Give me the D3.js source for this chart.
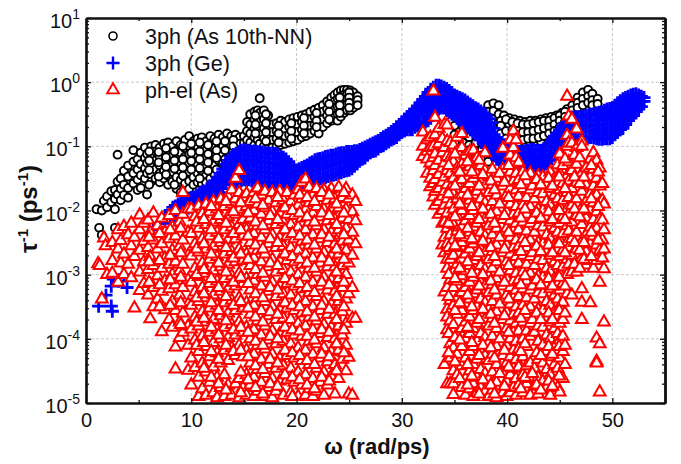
<!DOCTYPE html>
<html>
<head>
<meta charset="utf-8">
<script src="https://cdn.jsdelivr.net/npm/d3@7"></script>
<style>
  body { margin: 0; background: #fff; }
  text { font-family: "Liberation Sans", Arial, sans-serif; fill: #111; }
</style>
</head>
<body>
<div id="chart"></div>
<script>
// every row below is one column of points: [omega, log10(tau^-1), log10(tau^-1), ...]
const xTicks = [0, 10, 20, 30, 40, 50];
const yTickExp = [1, 0, -1, -2, -3, -4, -5];
const legendNames = ['3ph (As 10th-NN)', '3ph (Ge)', 'ph-el (As)'];

const black3ph = [
  [1.0,-1.98],[1.25,-2.27],[1.5,-2.0,-2.38],[1.7,-1.85],[2.0,-1.78,-1.95],[2.4,-1.7,-1.87],[2.75,-1.68,-1.82,-1.98,-2.27],
  [3.0,-1.13,-1.55,-1.75],[3.3,-1.5,-1.66,-1.84],[3.6,-1.38,-1.6,-1.76],[4.0,-1.3,-1.47,-1.65,-1.8],[4.5,-1.06,-1.24,-1.42,-1.58],
  [4.9,-1.2,-1.36,-1.52,-1.68],[5.2,-1.1,-1.28,-1.45,-1.65],[5.6,-1.02,-1.18,-1.34,-1.5],[5.8,-1.12,-1.26,-1.42,-1.75],
  [6.2,-1.0,-1.15,-1.3,-1.44,-1.55],[6.6,-.98,-1.08,-1.22,-1.36,-1.5],[7.0,-1.02,-1.16,-1.3,-1.42,-1.56],[7.4,-.96,-1.1,-1.24,-1.38,-1.5],
  [7.8,-.94,-1.06,-1.18,-1.32,-1.46,-1.6],[8.2,-1.0,-1.14,-1.28,-1.4,-1.55],[8.6,-.92,-1.06,-1.2,-1.34,-1.48,-1.66],[9.0,-.98,-1.1,-1.25,-1.38,-1.52,-1.72],
  [9.4,-.9,-1.03,-1.16,-1.3,-1.44,-1.58],[9.8,-.84,-1.0,-1.12,-1.26,-1.4,-1.54,-1.66],[10.2,-.92,-1.06,-1.2,-1.34,-1.48,-1.6],[10.6,-.88,-1.0,-1.14,-1.28,-1.42,-1.56],
  [11,-.86,-.98,-1.1,-1.24,-1.38,-1.5,-1.58],[11.4,-.92,-1.06,-1.18,-1.32,-1.46,-1.56],[11.8,-.84,-.97,-1.12,-1.26,-1.4,-1.5],[12.2,-.88,-1.02,-1.15,-1.3,-1.44],
  [12.6,-.82,-.95,-1.08,-1.22,-1.36],[13,-.86,-1.0,-1.12,-1.26,-1.38],[13.4,-.8,-.94,-1.06,-1.2],[13.8,-.84,-.98,-1.1],[14.2,-.82,-.93,-1.02],
  [14.6,-.86,-.96],[15,-.84,-.95],[15.3,-.62,-.76,-.9],[15.6,-.5,-.66,-.8,-.94],[16,-.46,-.58,-.72,-.86,-.98],[16.3,-.44,-.56,-.74,-.9],
  [16.5,-.25,-.48,-.62,-.8,-.96],[16.9,-.44,-.58,-.72,-.88,-1.0],[17.3,-.52,-.68,-.84,-.98],[17.7,-.66,-.78,-.9,-1.02],[18.1,-.64,-.76,-.88,-1.0],
  [18.5,-.6,-.72,-.86,-.98],[18.9,-.62,-.74,-.84,-.96],[19.3,-.58,-.7,-.82,-.94],[19.7,-.56,-.68,-.8,-.92],[20.1,-.54,-.66,-.78,-.9],
  [20.5,-.52,-.62,-.74,-.86],[20.9,-.5,-.6,-.72,-.84],[21.3,-.46,-.58,-.68,-.8],[21.7,-.43,-.54,-.66,-.76],[22.1,-.4,-.5,-.62,-.72,-.8],
  [22.5,-.36,-.46,-.58,-.7],[22.9,-.3,-.42,-.52,-.64],[23.3,-.24,-.36,-.48,-.6],[23.6,-.2,-.3,-.42,-.54],[23.9,-.16,-.26,-.38,-.5,-.6],
  [24.2,-.13,-.22,-.32,-.42,-.54],[24.5,-.12,-.2,-.28,-.38,-.48],[24.8,-.12,-.18,-.26,-.34,-.44],[25.1,-.13,-.2,-.28,-.36,-.44],[25.4,-.16,-.24,-.32,-.4],[25.8,-.22,-.28,-.36],
  [6.0,-1.08,-1.22,-1.37,-1.6],[6.9,-1.09,-1.25,-1.47],[7.6,-1.03,-1.17,-1.32,-1.44],[8.4,-1.08,-1.22,-1.35,-1.6],[9.2,-1.0,-1.2,-1.33,-1.46],[10,-.96,-1.1,-1.23,-1.36],
  [10.8,-.94,-1.08,-1.2,-1.34,-1.5],[11.6,-.98,-1.12,-1.25,-1.38],[12.4,-.92,-1.06,-1.18,-1.36],[13.2,-.92,-1.06,-1.2,-1.32],[14,-.9,-1.0,-1.14],
  [16.1,-.52,-.66,-.8],[17.1,-.5,-.64,-.78,-.92],[18.3,-.68,-.8,-.94],[19.5,-.64,-.76,-.88],[20.7,-.56,-.68,-.8],[21.9,-.48,-.6,-.7],[23.1,-.34,-.46,-.58],[24.1,-.24,-.36,-.48],[25,-.16,-.24,-.32,-.4],
  [35.0,-.68,-.82],[35.8,-.7,-.84,-.94],[36.4,-.86,-.98,-1.06],[37.0,-.95,-1.08,-1.14],[37.6,-1.05,-1.14,-1.2],[38.2,-.36,-.46,-.58,-1.15,-1.24],
  [38.7,-.33,-.45,-.58,-.7,-.82],[39.2,-.36,-.5,-.62,-.74,-.86],[39.7,-.52,-.62,-.72,-.84,-.96],[40.2,-.56,-.66,-.78,-.9,-1.02],
  [40.7,-.58,-.7,-.8,-.92,-1.02],[41.2,-.6,-.7,-.82,-.94,-1.04],[41.7,-.62,-.72,-.84,-.94],[42.2,-.6,-.72,-.82,-.94],[42.7,-.6,-.7,-.8,-.92],
  [43.2,-.58,-.68,-.8,-.92],[43.7,-.56,-.66,-.78],[44.2,-.54,-.66,-.76],[44.7,-.52,-.62,-.72],[45.2,-.48,-.56,-.66],[45.7,-.42,-.5,-.6],
  [46.2,-.36,-.44,-.52],[46.7,-.24,-.32,-.4],[47.2,-.16,-.26,-.36],[47.7,-.12,-.22,-.32],[48.1,-.18,-.28,-.36],[48.6,-.26,-.34],
  [39.4,-.6,-.68,-.8],[39.9,-.58,-.76,-.88],[40.5,-.62,-.74,-.86,-.96],[41,-.64,-.76,-.88,-.98],[41.5,-.66,-.78,-.9],[42,-.66,-.78,-.88],[42.5,-.64,-.76,-.88],[43,-.62,-.74,-.86],[43.5,-.6,-.72,-.84],[44,-.6,-.7,-.8],[44.5,-.56,-.66,-.76],[45,-.52,-.6,-.7],[45.5,-.46,-.54,-.62]
];

const blueGe = [
  [1.2,-3.49],[1.9,-3.32],[2.4,-3.18,-3.49],[2.5,-3.57],[2.6,-3.07],[3.1,-3.1],[3.6,-3.0],[3.9,-3.2],[6.4,-2.3],[7,-2.2],[7.5,-2.1,-2.2],
  [8,-2.0,-2.12],[8.25,-1.95,-2.1],[8.5,-1.93,-2.08],[8.75,-1.9,-2.05],[9,-1.88,-2.03],[9.25,-1.86,-2.0],[9.5,-1.84,-1.98],[9.75,-1.82,-1.96],
  [10,-1.8,-1.94],[10.25,-1.79,-1.93],[10.5,-1.76,-1.9],[10.75,-1.74,-1.88],[11,-1.71,-1.85],[11.25,-1.7,-1.84],[11.5,-1.66,-1.8],[11.75,-1.62,-1.76],
  [12,-1.58,-1.72,-1.85],[12.25,-1.54,-1.68,-1.82],[12.5,-1.48,-1.62,-1.78],[12.75,-1.42,-1.56,-1.72],[13,-1.35,-1.5,-1.66],[13.25,-1.28,-1.43,-1.58],[13.5,-1.22,-1.37,-1.52],[13.75,-1.17,-1.32,-1.48],
  [14,-1.13,-1.28,-1.44,-1.6],[14.25,-1.11,-1.26,-1.42,-1.58],[14.5,-1.08,-1.23,-1.39,-1.55],[14.75,-1.06,-1.22,-1.38,-1.54],[15,-1.05,-1.2,-1.36,-1.52],[15.25,-1.07,-1.22,-1.37,-1.53],[15.5,-1.06,-1.21,-1.37,-1.52],[15.75,-1.08,-1.23,-1.38,-1.54],
  [16,-1.07,-1.22,-1.37,-1.52],[16.25,-1.08,-1.23,-1.39,-1.54],[16.5,-1.09,-1.24,-1.39,-1.55],[16.75,-1.09,-1.25,-1.4,-1.55],[17,-1.1,-1.25,-1.4,-1.55],[17.25,-1.1,-1.25,-1.41,-1.56],[17.5,-1.11,-1.26,-1.41,-1.56],[17.75,-1.11,-1.26,-1.42,-1.57],
  [18,-1.11,-1.27,-1.42,-1.58],[18.25,-1.13,-1.28,-1.43,-1.58],[18.5,-1.16,-1.3,-1.44,-1.58],[18.75,-1.17,-1.31,-1.45,-1.59],[19,-1.2,-1.33,-1.46,-1.6],[19.25,-1.24,-1.37,-1.5,-1.62],[19.5,-1.3,-1.42,-1.54,-1.64],[19.75,-1.36,-1.47,-1.58],
  [20,-1.37,-1.5,-1.6],[20.25,-1.35,-1.47,-1.6],[20.5,-1.33,-1.46,-1.59],[20.75,-1.31,-1.44,-1.58],[21,-1.29,-1.42,-1.56],[21.25,-1.26,-1.4,-1.55],[21.5,-1.24,-1.38,-1.55],[21.75,-1.21,-1.36,-1.54],
  [22,-1.2,-1.35,-1.52],[22.25,-1.19,-1.34,-1.51],[22.5,-1.18,-1.33,-1.5],[22.75,-1.16,-1.32,-1.49],[23,-1.15,-1.3,-1.47],[23.25,-1.14,-1.29,-1.46],[23.5,-1.14,-1.28,-1.45],[23.75,-1.12,-1.27,-1.44],
  [24,-1.11,-1.26,-1.42],[24.25,-1.1,-1.25,-1.41],[24.5,-1.1,-1.24,-1.39],[24.75,-1.08,-1.23,-1.38],[25,-1.08,-1.22,-1.37],[25.25,-1.08,-1.2,-1.35],[25.5,-1.07,-1.19,-1.31],[25.75,-1.07,-1.18,-1.27],
  [26,-1.05,-1.15,-1.22],[26.25,-1.03,-1.13,-1.2],[26.5,-1.01,-1.11,-1.18],[26.75,-.99,-1.08,-1.14],[27,-.97,-1.04,-1.1],[27.25,-.95,-1.02,-1.08],[27.5,-.93,-1.0,-1.07],[27.75,-.91,-.98,-1.04],
  [28,-.88,-.95,-1.0],[28.25,-.85,-.93,-.99],[28.5,-.83,-.9,-.96],[28.75,-.8,-.87,-.93],[29,-.77,-.84,-.9],[29.25,-.74,-.82,-.88],[29.5,-.7,-.78,-.86],[29.75,-.66,-.74,-.82],
  [30,-.62,-.7,-.78],[30.25,-.58,-.66,-.76],[30.5,-.54,-.62,-.74],[30.75,-.5,-.6,-.74],[31,-.46,-.58,-.74],[31.25,-.42,-.54,-.7],[31.5,-.37,-.5,-.68],[31.75,-.32,-.46,-.66],
  [32,-.27,-.42,-.64],[32.25,-.22,-.37,-.52,-.62],[32.5,-.16,-.3,-.46,-.6],[32.75,-.11,-.25,-.42,-.56],[33,-.08,-.22,-.38,-.5],[33.25,-.05,-.2,-.36,-.46],[33.5,-.05,-.18,-.32,-.4],[33.75,-.06,-.2,-.32,-.4],
  [34,-.08,-.22,-.34,-.4],[34.25,-.1,-.24,-.37,-.44],[34.5,-.13,-.26,-.4,-.47],[34.75,-.16,-.29,-.42,-.5],[35,-.2,-.32,-.44,-.52],[35.25,-.22,-.34,-.47,-.56],[35.5,-.24,-.37,-.5,-.6],[35.75,-.26,-.4,-.54,-.64],
  [36,-.28,-.42,-.56,-.67],[36.25,-.31,-.45,-.6,-.7],[36.5,-.34,-.48,-.62,-.74],[36.75,-.37,-.51,-.66,-.78],[37,-.4,-.54,-.68,-.82],[37.25,-.42,-.56,-.72,-.86],[37.5,-.45,-.6,-.76,-.9],[37.75,-.48,-.64,-.8,-.96],
  [38,-.51,-.68,-.84,-1.02],[38.25,-.57,-.72,-.88,-1.06],[38.5,-.63,-.78,-.94,-1.1],[38.75,-.72,-.86,-1.0,-1.15],[39,-.86,-.98,-1.1,-1.2],[39.25,-.9,-1.02,-1.14,-1.22],[39.5,-.94,-1.06,-1.18,-1.24],[39.75,-.98,-1.1,-1.2],
  [40,-1.02,-1.14,-1.24],[40.25,-1.05,-1.16,-1.25],[40.5,-1.06,-1.17,-1.25],[40.75,-1.07,-1.18,-1.26],[41,-1.08,-1.18,-1.25],[41.25,-1.08,-1.19,-1.27],[41.5,-1.08,-1.2,-1.29],[41.75,-1.07,-1.19,-1.3],
  [42,-1.06,-1.18,-1.3],[42.25,-1.05,-1.18,-1.31],[42.5,-1.05,-1.18,-1.32],[42.75,-1.06,-1.2,-1.33],[43,-1.07,-1.21,-1.34],[43.25,-1.06,-1.2,-1.33],[43.5,-1.03,-1.17,-1.3],[43.75,-1.0,-1.13,-1.27],
  [44,-.96,-1.09,-1.22],[44.25,-.9,-1.03,-1.17],[44.5,-.84,-.98,-1.13],[44.75,-.79,-.93,-1.08],[45,-.74,-.88,-1.04],[45.25,-.69,-.84,-1.0],[45.5,-.64,-.8,-.96],[45.75,-.59,-.74,-.92],
  [46,-.56,-.72,-.9],[46.25,-.55,-.7,-.88],[46.5,-.54,-.7,-.88],[46.75,-.54,-.7,-.87],[47,-.54,-.7,-.86],[47.25,-.53,-.69,-.86],[47.5,-.52,-.68,-.86],[47.75,-.51,-.67,-.86],
  [48,-.5,-.66,-.76,-.86],[48.25,-.49,-.66,-.77,-.87],[48.5,-.48,-.6,-.74,-.88],[48.75,-.47,-.6,-.75,-.89],[49,-.46,-.6,-.76,-.89],[49.25,-.44,-.58,-.74,-.88],[49.5,-.42,-.56,-.72,-.88],[49.75,-.41,-.55,-.72,-.88],
  [50,-.4,-.54,-.7,-.86],[50.25,-.36,-.5,-.66,-.82],[50.5,-.32,-.46,-.62,-.78],[50.75,-.29,-.42,-.58,-.74],[51,-.26,-.4,-.56,-.72],[51.25,-.24,-.36,-.5,-.66],[51.5,-.22,-.34,-.48,-.6],[51.75,-.2,-.32,-.44,-.56],
  [52,-.19,-.3,-.41,-.52],[52.25,-.18,-.28,-.38,-.46],[52.5,-.2,-.28,-.36,-.42],[52.75,-.22,-.3,-.38],[53,-.24,-.3]
];

const redPhEl = [
  [1.15,-2.83],[1.3,-2.86],[1.5,-3.38],[1.7,-2.43],[1.85,-2.55],[2,-3.0],[2.5,-2.5,-2.78,-2.98],[3.05,-2.3,-2.6,-3.12],[3.3,-2.47,-2.82],
  [3.6,-2.25,-2.68,-3.0],[4.0,-2.38,-2.84],[4.3,-2.2,-2.55,-3.05],[4.6,-2.42,-2.72,-3.52],[5.1,-2.07,-2.3,-2.62,-2.96,-3.25],[5.5,-2.2,-2.48,-2.8,-3.14],
  [5.9,-2.15,-2.58,-2.92,-3.32],[6.1,-2.34,-2.72,-3.69],[6.4,-2.04,-2.46,-2.86,-3.2,-3.5],[6.8,-2.24,-2.6,-3.02,-3.38],[7.2,-2.12,-2.52,-2.9,-3.26,-3.89],[7.5,-2.34,-2.74,-3.1,-3.55],
  [7.9,-2.08,-2.44,-2.84,-3.22,-3.7],[8.2,-2.26,-2.62,-3.0,-3.42,-3.82],[8.5,-2.0,-2.4,-2.8,-3.16,-3.56,-4.13,-4.47],[8.9,-2.18,-2.56,-2.94,-3.32,-3.74,-3.98],
  [9.2,-1.72,-2.06,-2.46,-2.84,-3.2,-3.6,-3.9],[9.7,-1.98,-2.34,-2.7,-3.08,-3.46,-3.8,-4.1,-4.49],
  [10,-1.98,-2.36,-2.71,-3.12,-3.48,-3.85,-4.3,-4.72],[10.35,-2.1,-2.52,-2.9,-3.27,-3.66,-4.02,-4.45],[10.7,-1.93,-2.28,-2.65,-3.03,-3.42,-3.8,-4.2,-4.6,-4.9],
  [11.05,-2.05,-2.44,-2.82,-3.2,-3.58,-3.96,-4.38,-4.78],[11.4,-1.9,-2.22,-2.6,-2.98,-3.36,-3.74,-4.12,-4.52,-4.88],[11.75,-2.02,-2.4,-2.76,-3.14,-3.52,-3.9,-4.28,-4.68],
  [12.1,-1.86,-2.18,-2.56,-2.94,-3.32,-3.7,-4.06,-4.44,-4.84],[12.45,-1.98,-2.34,-2.72,-3.1,-3.48,-3.86,-4.22,-4.6,-4.92],[12.8,-1.82,-2.14,-2.5,-2.88,-3.26,-3.64,-4.0,-4.38,-4.76],
  [13.15,-1.94,-2.3,-2.68,-3.06,-3.44,-3.82,-4.18,-4.56,-4.9],[13.5,-1.78,-2.1,-2.46,-2.84,-3.22,-3.6,-3.98,-4.34,-4.72],[13.85,-1.68,-1.9,-2.26,-2.64,-3.02,-3.4,-3.78,-4.14,-4.88],
  [14.2,-1.5,-1.82,-2.06,-2.44,-2.8,-3.18,-3.56,-3.94,-4.26,-4.7],[14.55,-1.38,-1.72,-1.98,-2.22,-2.6,-2.98,-3.36,-3.74,-4.1,-4.62,-4.92],[14.9,-1.8,-2.14,-2.4,-2.78,-3.14,-3.52,-3.9,-4.28,-4.76],
  [15.25,-1.74,-1.94,-2.3,-2.68,-3.06,-3.44,-3.82,-4.18,-4.56,-4.88],[15.6,-1.86,-2.12,-2.5,-2.86,-3.24,-3.62,-4.0,-4.38,-4.72],[15.95,-1.72,-2.0,-2.36,-2.74,-3.1,-3.48,-3.86,-4.24,-4.6,-4.9],
  [16.3,-1.65,-1.9,-2.24,-2.62,-3.0,-3.36,-3.72,-4.1,-4.48,-4.82],[16.65,-1.76,-2.06,-2.42,-2.8,-3.18,-3.56,-3.94,-4.32,-4.68],[17,-1.7,-1.96,-2.3,-2.68,-3.04,-3.42,-3.8,-4.16,-4.54,-4.9],
  [17.35,-1.84,-2.16,-2.52,-2.88,-3.26,-3.64,-4.02,-4.4,-4.76],[17.7,-1.72,-2.02,-2.38,-2.76,-3.12,-3.5,-3.88,-4.24,-4.62,-4.92],[18.05,-1.88,-2.22,-2.58,-2.96,-3.34,-3.7,-4.08,-4.46,-4.82],
  [18.4,-1.7,-2.04,-2.42,-2.78,-3.16,-3.54,-3.92,-4.3,-4.66],[18.75,-1.84,-2.18,-2.56,-2.92,-3.3,-3.68,-4.04,-4.42,-4.88],[19.1,-1.72,-2.06,-2.4,-2.78,-3.14,-3.52,-3.9,-4.26,-4.64],
  [19.45,-1.86,-2.22,-2.58,-2.96,-3.32,-3.7,-4.08,-4.46,-4.84],[19.8,-1.76,-2.08,-2.44,-2.8,-3.18,-3.56,-3.94,-4.3,-4.68],[20.15,-1.68,-1.92,-2.26,-2.62,-3.0,-3.38,-3.76,-4.14,-4.52,-4.9],
  [20.5,-1.56,-1.82,-2.12,-2.48,-2.84,-3.22,-3.6,-3.96,-4.34,-4.72],[20.85,-1.51,-1.72,-1.98,-2.3,-2.68,-3.04,-3.42,-3.8,-4.18,-4.56,-4.88],[21.2,-1.64,-1.88,-2.18,-2.54,-2.9,-3.28,-3.66,-4.04,-4.4,-4.78],
  [21.55,-1.76,-2.04,-2.38,-2.74,-3.12,-3.5,-3.86,-4.24,-4.62,-4.9],[21.9,-1.66,-1.94,-2.24,-2.6,-2.96,-3.34,-3.72,-4.08,-4.46,-4.82],[22.25,-1.8,-2.1,-2.44,-2.82,-3.18,-3.56,-3.92,-4.3,-4.68],
  [22.6,-1.68,-1.98,-2.3,-2.66,-3.04,-3.42,-3.78,-4.14,-4.52,-4.88],[22.95,-1.84,-2.16,-2.5,-2.88,-3.24,-3.62,-3.98,-4.36,-4.72],[23.3,-1.66,-1.98,-2.34,-2.7,-3.08,-3.46,-3.82,-4.2,-4.58],
  [23.65,-1.82,-2.14,-2.52,-2.88,-3.26,-3.62,-4.0,-4.4,-4.86],[24,-1.64,-1.96,-2.3,-2.68,-3.06,-3.42,-3.8,-4.18,-4.62],[24.35,-1.8,-2.12,-2.48,-2.86,-3.2,-3.58,-3.94,-4.32],
  [24.7,-1.66,-1.98,-2.28,-2.62,-3.0,-3.38,-3.76,-4.1,-4.5],[24.95,-1.82,-2.14,-2.46,-2.82,-3.3,-4.29,-4.86],[25.3,-1.76,-2.02,-2.34,-2.7,-3.2,-3.68,-4.88],[25.6,-1.86,-2.16,-2.52,-3.68],
  [10.5,-2.18,-2.6,-3.0,-3.36,-3.74,-4.1],[11.2,-2.14,-2.52,-2.92,-3.3,-3.68,-4.06,-4.46],[11.9,-1.94,-2.3,-2.68,-3.06,-3.44,-3.82,-4.2,-4.6],[12.6,-2.08,-2.44,-2.82,-3.2,-3.56,-3.94,-4.32,-4.7],
  [13.3,-1.86,-2.2,-2.58,-2.96,-3.34,-3.72,-4.1,-4.8],[14,-2.02,-2.36,-2.74,-3.12,-3.48,-3.86,-4.2],[14.7,-1.88,-2.3,-2.68,-3.04,-3.42,-3.82,-4.18,-4.52,-4.84],[15.4,-2.04,-2.4,-2.76,-3.14,-3.52,-3.9,-4.28,-4.64],
  [16.1,-1.82,-2.18,-2.54,-2.92,-3.3,-3.66,-4.04,-4.42,-4.76],[16.8,-1.92,-2.24,-2.6,-2.98,-3.36,-3.74,-4.1,-4.48,-4.86],[17.5,-2.08,-2.44,-2.82,-3.2,-3.58,-3.96,-4.32,-4.7],[18.2,-1.8,-2.14,-2.5,-2.86,-3.24,-3.62,-4.0,-4.38,-4.74],
  [18.9,-1.96,-2.3,-2.68,-3.06,-3.44,-3.82,-4.18,-4.56],[19.6,-2.0,-2.36,-2.72,-3.1,-3.48,-3.86,-4.22,-4.6,-4.9],[20.3,-1.76,-2.04,-2.4,-2.76,-3.14,-3.5,-3.88,-4.26,-4.64],[21,-1.8,-2.1,-2.46,-2.82,-3.2,-3.58,-3.96,-4.34,-4.72],
  [21.7,-1.86,-2.18,-2.54,-2.9,-3.28,-3.66,-4.02,-4.4,-4.78],[22.4,-1.72,-2.04,-2.38,-2.74,-3.12,-3.48,-3.86,-4.24,-4.6],[23.1,-1.76,-2.08,-2.42,-2.8,-3.16,-3.54,-3.9,-4.28,-4.66],[23.8,-1.9,-2.22,-2.6,-2.96,-3.34,-3.7,-4.08,-4.5],
  [24.5,-1.72,-2.04,-2.38,-2.76,-3.12,-3.5,-3.86,-4.22],[6,-2.42,-2.8,-3.12],[7,-2.36,-2.78,-3.16,-3.5],[8,-2.3,-2.7,-3.08,-3.48],[9,-2.28,-2.66,-3.04,-3.44,-3.78],
  [32,-.78,-1.0,-1.16],[32.4,-.9,-1.08,-1.2,-1.42],[32.7,-.86,-1.02,-1.26,-1.5,-1.63],[33,-.14,-1.0,-1.18,-1.38,-1.58,-1.79],[33.15,-.55,-.82,-1.12,-1.3,-1.52,-1.7,-1.92],
  [33.5,-.72,-.96,-1.22,-1.44,-1.66,-1.86,-2.06],[33.85,-.88,-1.1,-1.34,-1.56,-1.78,-2.0,-2.2,-2.54],[34.05,-.66,-1.02,-1.26,-1.48,-1.7,-1.92,-2.18,-2.42,-2.66,-3.27,-4.4],
  [34.3,-.67,-.92,-1.16,-1.38,-1.6,-1.82,-2.04,-2.28,-2.52,-2.76,-2.9,-3.2,-3.54,-3.66,-3.86,-4.7],[34.6,-.94,-1.18,-1.42,-1.66,-1.9,-2.14,-2.38,-2.62,-2.76,-3.08,-3.4,-3.72,-4.08,-4.3,-4.7],
  [34.9,-.98,-1.24,-1.5,-1.74,-1.98,-2.22,-2.46,-2.7,-2.96,-3.2,-3.48,-3.78,-4.14,-4.5,-4.7,-4.87],[35.25,-.86,-1.08,-1.34,-1.58,-1.82,-2.08,-2.32,-2.58,-2.84,-3.1,-3.36,-3.62,-3.94,-4.24,-4.56],
  [35.7,-.8,-1.02,-1.28,-1.52,-1.76,-2.0,-2.26,-2.5,-2.76,-3.02,-3.28,-3.56,-3.84,-4.12,-4.42,-4.76],[36.05,-1.14,-1.4,-1.66,-1.92,-2.16,-2.42,-2.68,-2.94,-3.2,-3.46,-3.74,-4.0,-4.3,-4.62,-4.88],
  [36.45,-1.08,-1.32,-1.58,-1.84,-2.08,-2.34,-2.6,-2.86,-3.12,-3.38,-3.66,-3.92,-4.2,-4.5,-4.78],[36.8,-1.06,-1.24,-1.5,-1.76,-2.0,-2.26,-2.52,-2.78,-3.04,-3.3,-3.56,-3.84,-4.12,-4.4,-4.7,-4.9],
  [37.15,-1.18,-1.44,-1.7,-1.94,-2.2,-2.46,-2.72,-2.98,-3.24,-3.5,-3.76,-4.04,-4.32,-4.6,-4.84],[37.5,-1.3,-1.56,-1.82,-2.08,-2.34,-2.6,-2.86,-3.12,-3.38,-3.64,-3.92,-4.2,-4.48,-4.76],
  [37.9,-1.1,-1.38,-1.62,-1.88,-2.14,-2.4,-2.66,-2.92,-3.18,-3.44,-3.7,-3.98,-4.26,-4.54,-4.82],[38.25,-1.46,-1.72,-1.98,-2.24,-2.5,-2.76,-3.02,-3.28,-3.54,-3.8,-4.06,-4.34,-4.62,-4.9],
  [38.6,-1.36,-1.6,-1.86,-2.12,-2.38,-2.64,-2.9,-3.16,-3.42,-3.68,-3.96,-4.24,-4.52,-4.8],[39,-1.5,-1.76,-2.02,-2.28,-2.54,-2.8,-3.06,-3.32,-3.58,-3.84,-4.12,-4.4,-4.68,-4.92],
  [39.6,-1.03,-1.36,-1.62,-1.88,-2.14,-2.4,-2.66,-2.92,-3.18,-3.44,-3.7,-3.98,-4.26,-4.54,-4.84],[39.95,-1.5,-1.76,-2.02,-2.28,-2.54,-2.8,-3.06,-3.32,-3.58,-3.84,-4.1,-4.38,-4.66,-4.9],
  [40.3,-.9,-1.14,-1.4,-1.66,-1.9,-2.16,-2.42,-2.68,-2.94,-3.2,-3.46,-3.72,-4.0,-4.28,-4.56,-4.84],[40.6,-.76,-1.02,-1.28,-1.54,-1.8,-2.06,-2.32,-2.58,-2.84,-3.1,-3.36,-3.62,-3.9,-4.18,-4.46,-4.76],
  [40.85,-.9,-1.18,-1.42,-1.68,-1.94,-2.2,-2.46,-2.72,-2.98,-3.24,-3.5,-3.76,-4.04,-4.32,-4.62,-4.88],[41.1,-1.25,-1.52,-1.78,-2.04,-2.3,-2.56,-2.82,-3.08,-3.34,-3.6,-3.88,-4.16,-4.44,-4.72],
  [41.5,-1.4,-1.66,-1.92,-2.18,-2.44,-2.7,-2.96,-3.22,-3.48,-3.74,-4.0,-4.28,-4.56,-4.84],[41.85,-1.54,-1.8,-2.06,-2.32,-2.58,-2.84,-3.1,-3.36,-3.62,-3.88,-4.12,-4.42,-4.7],
  [42.2,-1.42,-1.68,-1.94,-2.2,-2.46,-2.72,-2.98,-3.24,-3.5,-3.76,-3.96,-4.38,-4.62,-4.88],[42.6,-1.56,-1.82,-2.08,-2.34,-2.6,-2.86,-3.12,-3.38,-3.64,-3.9,-4.46,-4.74],
  [42.95,-1.46,-1.72,-1.98,-2.24,-2.5,-2.76,-3.02,-3.28,-3.54,-3.8,-4.04,-4.32,-4.6,-4.86],[43.4,-1.48,-1.74,-2.0,-2.26,-2.52,-2.78,-3.04,-3.3,-3.56,-3.82,-4.1,-4.38,-4.66],
  [43.75,-1.6,-1.86,-2.12,-2.38,-2.64,-2.9,-3.16,-3.42,-3.68,-3.94,-4.2,-4.48,-4.76],[44.1,-1.4,-1.66,-1.92,-2.18,-2.44,-2.7,-2.96,-3.22,-3.48,-3.74,-4.0,-4.28,-4.56,-4.88],
  [44.5,-1.5,-1.76,-2.02,-2.28,-2.54,-2.8,-3.06,-3.32,-3.58,-3.84,-4.12,-4.4,-4.68],[44.8,-1.29,-1.56,-1.82,-2.08,-2.34,-2.6,-2.86,-3.12,-3.38,-3.64,-3.92,-4.18,-4.46,-4.76],
  [45,-1.12,-1.42,-1.68,-1.94,-2.2,-2.46,-2.72,-2.98,-3.24,-3.5,-3.76,-4.02,-4.3,-4.83],[45.3,-1.3,-1.58,-1.84,-2.1,-2.36,-2.62,-2.88,-3.14,-3.43,-3.7,-3.96,-4.2,-4.62],
  [45.7,-.22,-.83,-1.0,-1.46,-1.72,-1.98,-2.24,-2.5,-2.76,-3.0,-3.3],[45.85,-.53,-.95,-1.24,-1.54,-1.8,-2.06,-2.32,-2.58,-2.84],[46.15,-.58,-.95,-1.38,-1.66,-1.92,-2.18,-2.44,-2.7,-2.96,-3.32],
  [46.6,-.73,-1.02,-1.28,-1.56,-1.82,-2.08,-2.34,-2.6,-2.96],[47.1,-.92,-1.0,-1.42,-1.7,-1.96,-2.22,-2.48,-2.74,-3.22,-3.43,-3.7],[47.5,-1.34,-1.6,-1.86,-2.12,-2.38,-2.64,-2.85],
  [47.9,-1.2,-1.48,-1.74,-2.0,-2.26,-2.52,-2.78,-3.44],[48.2,-1.1,-1.36,-1.62,-1.88,-2.14,-2.4,-2.66,-2.9],[48.5,-1.22,-1.5,-1.76,-2.02,-2.28,-2.54,-2.78,-3.99,-4.35,-4.38],
  [48.8,-1.34,-1.62,-1.88,-2.14,-2.4,-2.62,-3.12,-4.08,-4.83],[49.05,-1.58,-1.84,-2.15,-2.46,-2.74],[49.2,-1.9,-2.3,-2.6,-2.91,-3.74],
  [34.45,-1.3,-1.74,-2.2,-2.58,-3.0,-3.34,-3.92,-4.22],[35.05,-1.12,-1.62,-2.1,-2.55,-3.06,-3.56,-3.98,-4.36],[35.5,-1.4,-1.9,-2.38,-2.9,-3.44,-4.02,-4.62],[36.25,-1.24,-1.76,-2.28,-2.8,-3.32,-3.82,-4.4,-4.72],
  [36.65,-1.4,-1.94,-2.44,-2.98,-3.5,-4.06,-4.58],[37.35,-1.22,-1.62,-2.14,-2.66,-3.18,-3.7,-4.26,-4.86],[37.7,-1.44,-1.98,-2.48,-3.0,-3.54,-4.1,-4.64],[38.45,-1.54,-2.06,-2.58,-3.1,-3.62,-4.14,-4.72],
  [38.8,-1.68,-2.2,-2.72,-3.24,-3.76,-4.3,-4.86],[39.3,-1.42,-1.9,-2.42,-2.96,-3.46,-4.0,-4.54],[39.75,-1.56,-2.08,-2.6,-3.12,-3.64,-4.18,-4.74],[40.15,-1.3,-1.8,-2.34,-2.86,-3.38,-3.9,-4.44],
  [41.3,-1.6,-2.12,-2.64,-3.16,-3.68,-4.2,-4.78],[41.7,-1.46,-1.98,-2.5,-3.02,-3.56,-4.08,-4.6],[42.4,-1.62,-2.14,-2.66,-3.18,-3.7,-4.54],[42.8,-1.52,-2.04,-2.56,-3.08,-3.6,-4.22,-4.72],
  [43.2,-1.6,-2.12,-2.64,-3.16,-3.7,-4.26,-4.8],[43.95,-1.5,-2.02,-2.54,-3.06,-3.6,-4.12,-4.66],[44.3,-1.62,-2.14,-2.66,-3.18,-3.7,-4.24,-4.74],[44.95,-1.48,-2.0,-2.52,-3.04,-3.56,-4.12,-4.58],
  [45.5,-1.2,-1.66,-2.14,-2.66,-3.18,-3.6,-4.1,-4.4],[46.4,-1.14,-1.48,-1.98,-2.5,-2.84],[46.9,-1.18,-1.58,-2.1,-2.62,-2.9],[47.3,-1.48,-1.98,-2.5,-2.76],[48.0,-1.3,-1.82,-2.34,-2.72],[48.65,-1.4,-1.94,-2.46]
];

// Chart dimensions
const width = 681, height = 464;
const plot = { left: 86, right: 665, top: 18, bottom: 403 };

const x = d3.scaleLinear().domain([0, 55]).range([plot.left, plot.right]);
const y = d3.scaleLog().domain([1e-5, 10]).range([plot.bottom, plot.top]);

const svg = d3.select('#chart').append('svg')
    .attr('width', width)
    .attr('height', height);

// dashed grid at the major ticks
svg.append('g').selectAll('line')
    .data(xTicks.slice(1))
    .join('line')
    .attr('x1', d => x(d)).attr('x2', d => x(d))
    .attr('y1', plot.top).attr('y2', plot.bottom)
    .attr('stroke', '#c9c9c9').attr('stroke-dasharray', '3,2');
svg.append('g').selectAll('line')
    .data(yTickExp.slice(1, -1))
    .join('line')
    .attr('x1', plot.left).attr('x2', plot.right)
    .attr('y1', d => y(Math.pow(10, d))).attr('y2', d => y(Math.pow(10, d)))
    .attr('stroke', '#c9c9c9').attr('stroke-dasharray', '3,2');

// turn the [omega, e, e, ...] columns into single points
function flatten(columns) {
    return columns.flatMap(c => c.slice(1).map(e => ({ w: c[0], tau: Math.pow(10, e) })));
}

const circle = d3.symbol().type(d3.symbolCircle).size(50)();
const plus = d3.symbol().type(d3.symbolPlus).size(58)();
const triangle = d3.symbol().type(d3.symbolTriangle).size(60)();

function scatter(columns, shape, fill, stroke, sw) {
    svg.append('g').selectAll('path')
        .data(flatten(columns))
        .join('path')
        .attr('d', shape)
        .attr('transform', d => `translate(${x(d.w)},${y(d.tau)})`)
        .attr('fill', fill)
        .attr('stroke', stroke)
        .attr('stroke-width', sw);
}

scatter(black3ph, circle, '#fff', '#000', 1.9);
scatter(blueGe, plus, 'none', '#0000ff', 2.8);
scatter(redPhEl, triangle, '#fff', '#ff0000', 2);

// axes, all four sides with inward ticks
function styleAxis(g, sw) {
    g.selectAll('.domain').attr('stroke', '#111').attr('stroke-width', sw);
    g.selectAll('.tick line').attr('stroke', '#111').attr('stroke-width', 1.3);
}

const xMinor = [5, 15, 25, 35, 45, 55];
const yMajor = yTickExp.map(e => Math.pow(10, e));
const yMinor = y.ticks().filter(v => !yMajor.some(m => Math.abs(m - v) < m * 1e-6));

const axisBottom = svg.append('g').attr('transform', `translate(0,${plot.bottom})`)
    .call(d3.axisBottom(x).tickValues(xTicks).tickSize(-5).tickSizeOuter(0).tickFormat(d3.format('d')));
axisBottom.selectAll('text').attr('y', 10).attr('font-size', 20).attr('dy', '0.71em');
styleAxis(axisBottom, 2.2);

const axisBottomMinor = svg.append('g').attr('transform', `translate(0,${plot.bottom})`)
    .call(d3.axisBottom(x).tickValues(xMinor).tickSize(-3).tickSizeOuter(0).tickFormat(''));
styleAxis(axisBottomMinor, 2.2);

const axisTop = svg.append('g').attr('transform', `translate(0,${plot.top})`)
    .call(d3.axisTop(x).tickValues(xTicks).tickSize(-5).tickSizeOuter(0).tickFormat(''));
styleAxis(axisTop, 2);
const axisTopMinor = svg.append('g').attr('transform', `translate(0,${plot.top})`)
    .call(d3.axisTop(x).tickValues(xMinor).tickSize(-3).tickSizeOuter(0).tickFormat(''));
styleAxis(axisTopMinor, 2);

const axisLeft = svg.append('g').attr('transform', `translate(${plot.left},0)`)
    .call(d3.axisLeft(y).tickValues(yMajor).tickSize(-5).tickSizeOuter(0).tickFormat(''));
styleAxis(axisLeft, 2.2);
const axisLeftMinor = svg.append('g').attr('transform', `translate(${plot.left},0)`)
    .call(d3.axisLeft(y).tickValues(yMinor).tickSize(-3).tickSizeOuter(0).tickFormat(''));
styleAxis(axisLeftMinor, 2.2);

const axisRight = svg.append('g').attr('transform', `translate(${plot.right},0)`)
    .call(d3.axisRight(y).tickValues(yMajor).tickSize(-5).tickSizeOuter(0).tickFormat(''));
styleAxis(axisRight, 2.4);
const axisRightMinor = svg.append('g').attr('transform', `translate(${plot.right},0)`)
    .call(d3.axisRight(y).tickValues(yMinor).tickSize(-3).tickSizeOuter(0).tickFormat(''));
styleAxis(axisRightMinor, 2.4);

// y tick labels, 10 with the exponent raised
const yLabels = svg.append('g').selectAll('text')
    .data(yTickExp)
    .join('text')
    .attr('text-anchor', 'end')
    .attr('x', 80)
    .attr('y', d => y(Math.pow(10, d)) + 10)
    .attr('font-size', 20);
yLabels.append('tspan').text('10');
yLabels.append('tspan').attr('dy', -9).attr('font-size', 14).text(d => d);

// legend
const legendY = [36, 63, 90];
const legendShapes = [circle, plus, triangle];
const legendFill = ['#fff', 'none', '#fff'];
const legendStroke = ['#000', '#0000ff', '#ff0000'];
const legendWidth = [1.6, 2.4, 1.9];
const legend = svg.append('g').selectAll('g')
    .data(legendNames)
    .join('g')
    .attr('transform', (d, i) => `translate(113,${legendY[i]})`);
legend.append('path')
    .attr('d', (d, i) => legendShapes[i])
    .attr('fill', (d, i) => legendFill[i])
    .attr('stroke', (d, i) => legendStroke[i])
    .attr('stroke-width', (d, i) => legendWidth[i]);
legend.append('text')
    .attr('x', 32).attr('y', 8)
    .attr('font-size', 21.5)
    .text(d => d);

// axis titles
svg.append('text')
    .attr('x', 377).attr('y', 454)
    .attr('text-anchor', 'middle')
    .attr('font-size', 22).attr('font-weight', 'bold')
    .text('ω (rad/ps)');

const yTitle = svg.append('text')
    .attr('transform', 'translate(37,209) rotate(-90)')
    .attr('text-anchor', 'middle')
    .attr('font-size', 24).attr('font-weight', 'bold');
yTitle.append('tspan').text('τ');
yTitle.append('tspan').attr('dy', -9).attr('font-size', 15).text('-1');
yTitle.append('tspan').attr('dy', 9).text(' (ps');
yTitle.append('tspan').attr('dy', -9).attr('font-size', 15).text('-1');
yTitle.append('tspan').attr('dy', 9).text(')');
</script>
</body>
</html>
